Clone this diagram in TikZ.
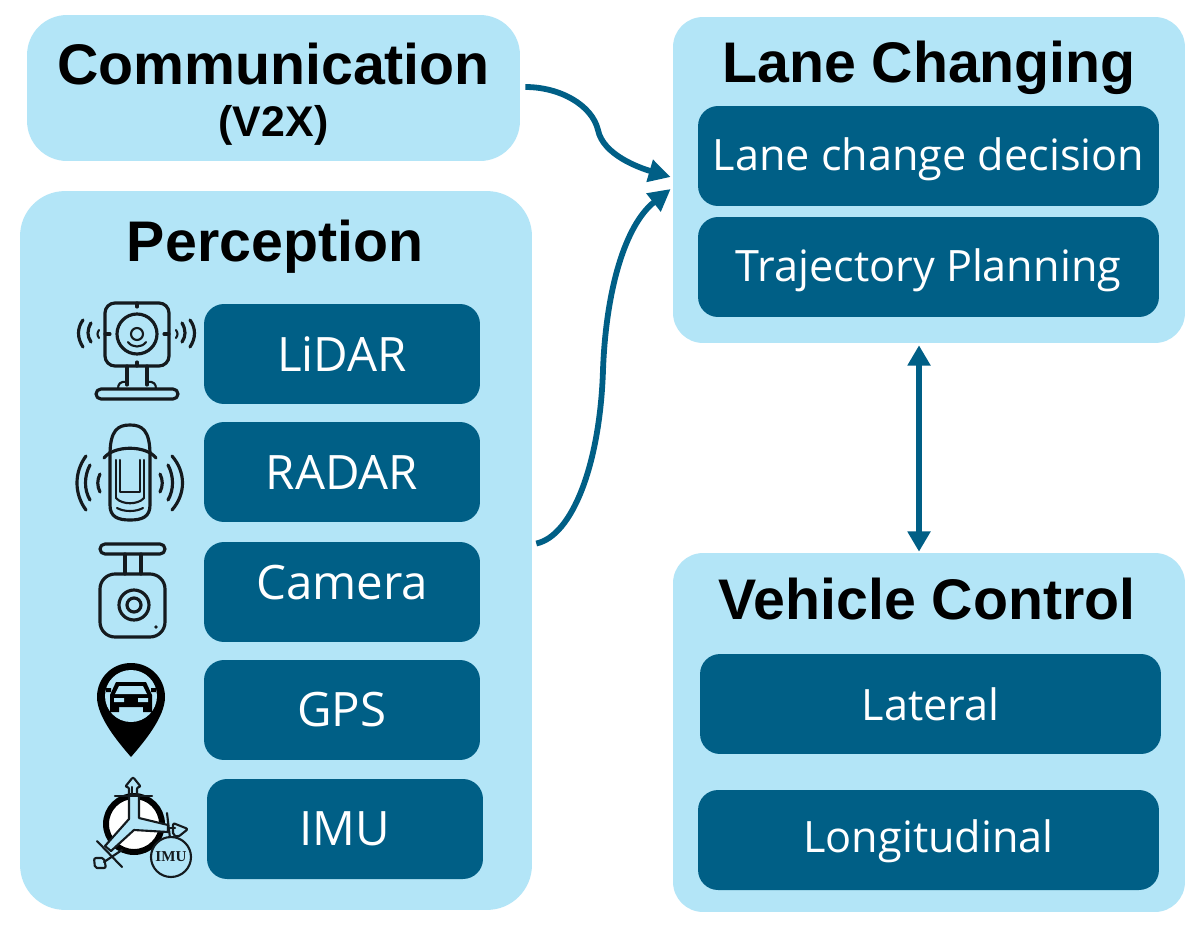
\documentclass[tikz,border=0pt]{standalone}
\usepackage{fontspec}
\setmainfont{Liberation Sans}
\newfontfamily\innerfont{Open Sans}
\newfontfamily\imufont{Liberation Serif}
\usetikzlibrary{arrows.meta}
\definecolor{lightpanel}{HTML}{B3E5F7}
\definecolor{darkbox}{HTML}{005F86}
\definecolor{iconink}{HTML}{141A1E}
\newcommand{\nudgetext}[2]{\raisebox{#1}[\height][\depth]{#2}}
\tikzset{
  x=0.02cm,y=-0.02cm,
  panel/.style={fill=lightpanel,draw=none,rounded corners=0.8cm,inner sep=0pt},
  innerbox/.style={fill=darkbox,draw=none,rounded corners=0.4cm,inner sep=0pt,text=white,minimum height=2cm},
  senswide/.style={innerbox,minimum width=5.52cm,font=\innerfont\fontsize{27}{30}\selectfont},
  planwide/.style={innerbox,minimum width=9.22cm,font=\innerfont\fontsize{24.6}{28}\selectfont},
  titletext/.style={anchor=base,inner sep=0pt,text=black,font=\bfseries\fontsize{32.6}{36}\selectfont},
  subtext/.style={anchor=base,inner sep=0pt,text=black,font=\bfseries\fontsize{24.4}{28}\selectfont},
  flow/.style={draw=darkbox,line width=3.3pt,-{Triangle[length=12.5pt,width=12.5pt]}},
  flowboth/.style={draw=darkbox,line width=3.2pt,{Triangle[length=11.5pt,width=12.5pt]}-{Triangle[length=11.5pt,width=12.5pt]}},
  ink/.style={draw=iconink,line width=1.8pt,line cap=round,line join=round,fill=none},
  inkthin/.style={draw=iconink,line width=1.2pt,line cap=round,line join=round,fill=none},
}
\begin{document}
\begin{tikzpicture}
\useasboundingbox (0,0) rectangle (1200,933);
\fill[white] (0,0) rectangle (1200,933);

% panels
\node[panel,minimum width=9.86cm,minimum height=2.92cm] (comm) at (273.5,88) {};
\node[panel,minimum width=10.24cm,minimum height=14.38cm,rounded corners=0.9cm] (perc) at (276,550.5) {};
\node[panel,minimum width=10.24cm,minimum height=6.52cm,rounded corners=0.6cm] (lane) at (929,180) {};
\node[panel,minimum width=10.24cm,minimum height=7.18cm,rounded corners=0.6cm] (veh) at (929,732.5) {};

% titles
\node[titletext] (commt) at (273.5,84) {Communication};
\node[subtext] (commv) at (273.5,136) {(V2X)};
\node[titletext] (perct) at (275,261) {Perception};
\node[titletext] (lanet) at (929,82) {Lane Changing};
\node[titletext] (veht) at (927,619) {Vehicle Control};

% inner boxes
\node[planwide] (decision) at (928.5,156) {\nudgetext{-1.6pt}{Lane change decision}};
\node[planwide] (traj) at (928.5,267) {\nudgetext{-1.6pt}{Trajectory Planning}};
\node[planwide] (lateral) at (930.5,704) {Lateral};
\node[planwide] (longi) at (928.5,840) {\nudgetext{-1pt}{Longitudinal}};
\node[senswide] (lidar) at (342,354) {LiDAR};
\node[senswide] (radar) at (342,472) {RADAR};
\node[senswide] (camera) at (342,592) {\nudgetext{5.6pt}{Camera}};
\node[senswide] (gps) at (342,710) {GPS};
\node[senswide] (imu) at (345,829) {IMU};

% connectors
\coordinate (commout) at ([xshift=0.1cm,yshift=0.02cm]comm.east);
\coordinate (laneinA) at ([xshift=-0.04cm,yshift=0.06cm]lane.west);
\coordinate (laneinB) at ([xshift=-0.04cm,yshift=-0.18cm]lane.west);
\coordinate (percout) at ([xshift=0.08cm,yshift=0.14cm]perc.east);
\coordinate (lanedown) at ([xshift=-0.2cm,yshift=-0.04cm]lane.south);
\coordinate (vehup) at ([xshift=-0.2cm,yshift=0.02cm]veh.north);
\draw[flow] (commout) .. controls (560,87) and (592,105) .. (598,130)
  .. controls (603,155) and (640,168) .. (laneinA);
\draw[flow] (percout) .. controls (572,536) and (600,465) .. (603,370)
  .. controls (606,290) and (625,225) .. (laneinB);
\draw[flowboth] (lanedown) -- (vehup);

% LiDAR icon
\draw[ink,rounded corners=0.2cm] (105,303) rectangle (169,366);
\draw[ink] (137,334) circle[radius=20];
\draw[inkthin] (137,334) circle[radius=6];
\draw[inkthin] (128,342) .. controls (132,348) and (142,348) .. (146,342);
\draw[ink] (137,303) -- (137,307) (137,362) -- (137,366) (105,334) -- (110,334) (164,334) -- (169,334);
\draw[ink] (127,366) -- (127,385) (147,366) -- (147,385);
\draw[inkthin] (127,382) .. controls (120,381) and (118,384) .. (118,389);
\draw[inkthin] (147,382) .. controls (154,381) and (156,384) .. (156,389);
\draw[ink,rounded corners=0.1cm] (96,389) rectangle (178,399);
\draw[inkthin] (99,330) .. controls (97,333) and (97,335) .. (99,338);
\draw[ink] (91,323) .. controls (87,330) and (87,336) .. (91,342);
\draw[ink] (83,320) .. controls (77,328) and (77,338) .. (83,347);
\draw[inkthin] (176,330) .. controls (178,333) and (178,335) .. (176,338);
\draw[ink] (182,323) .. controls (186,330) and (186,336) .. (182,342);
\draw[ink] (190,320) .. controls (196,328) and (196,338) .. (190,347);

% RADAR icon
\draw[ink] (110,455) .. controls (110,430) and (118,425) .. (130,425)
  .. controls (142,425) and (150,430) .. (150,455)
  -- (150,505) .. controls (150,517) and (142,520) .. (130,520)
  .. controls (118,520) and (110,517) .. (110,505) -- cycle;
\draw[ink] (104,458) .. controls (114,445) and (146,445) .. (156,458);
\draw[inkthin] (116,460) -- (116,498) (144,460) -- (144,498);
\draw[inkthin] (120,460) -- (120,492) -- (140,492) -- (140,460);
\draw[inkthin] (116,498) .. controls (122,505) and (138,505) .. (144,498);
\draw[inkthin] (117,508) .. controls (124,512) and (136,512) .. (143,508);
\draw[ink] (100,474) .. controls (97,480) and (97,486) .. (100,492);
\draw[ink] (90,465) .. controls (84,476) and (84,490) .. (90,500);
\draw[ink] (86,456) .. controls (74,472) and (74,494) .. (86,510);
\draw[ink] (160,474) .. controls (163,480) and (163,486) .. (160,492);
\draw[ink] (168,465) .. controls (174,476) and (174,490) .. (168,500);
\draw[ink] (172,456) .. controls (186,472) and (186,494) .. (172,510);

% Camera icon
\draw[ink,rounded corners=0.1cm] (100,544) rectangle (165,554);
\draw[ink] (125,554) -- (125,574) (141,554) -- (141,574);
\draw[ink,rounded corners=0.3cm] (100,574) rectangle (165,637);
\draw[ink] (134,605) circle[radius=15];
\draw[ink] (134,605) circle[radius=7];
\fill[iconink] (156,627) circle[radius=1.8];

% GPS icon
\fill[black] (131,663) .. controls (112,663) and (97,678) .. (97,697)
  .. controls (97,717) and (118,742) .. (131,757)
  .. controls (144,742) and (165,717) .. (165,697)
  .. controls (165,678) and (150,663) .. (131,663) -- cycle;
\fill[lightpanel] (131,696) circle[radius=26];
\fill[black] (116,682) -- (146,682) -- (152,695) -- (152,707) -- (110,707) -- (110,695) -- cycle;
\fill[lightpanel] (119,686) -- (143,686) -- (147,694) -- (115,694) -- cycle;
\fill[lightpanel] (114,698) rectangle (124,702) (138,698) rectangle (148,702);
\fill[black] (110,707) rectangle (119,712) (143,707) rectangle (152,712);
\fill[black] (106,688) rectangle (111,692) (151,688) rectangle (156,692);

% IMU icon
\fill[white,draw=black,line width=3.4pt] (134,824) circle[radius=28];
\draw[inkthin,fill=lightpanel] (129,795) -- (129,819) -- (105,846) -- (111,851) -- (134,830) -- (168,832) -- (168,825) -- (139,818) -- (139,795) -- cycle;
\draw[inkthin] (132,795) -- (132,787);
\draw[inkthin,rounded corners=0.04cm] (125,787) -- (133,777) -- (141,787) -- (137,787) -- (137,795) -- (129,795) -- (129,787) -- cycle;
\draw[inkthin] (115,796) -- (152,796);
\draw[inkthin] (168,828) -- (175,828);
\draw[inkthin,rounded corners=0.04cm] (173,823) -- (188,829) -- (178,837) -- (173,835) -- cycle;
\draw[inkthin] (167,813) -- (170,838);
\draw[inkthin] (97,841) -- (122,867);
\draw[inkthin] (104,862) -- (122,850);
\draw[inkthin,rounded corners=0.04cm] (94,858) -- (104,858) -- (106,868) -- (95,868) -- cycle;
\node[circle,draw=iconink,line width=1.2pt,fill=lightpanel,minimum size=0.8cm,inner sep=0pt,
  font=\imufont\bfseries\fontsize{8.6}{9}\selectfont,text=iconink] (imuicon) at (171,857) {IMU};
\end{tikzpicture}
\end{document}
